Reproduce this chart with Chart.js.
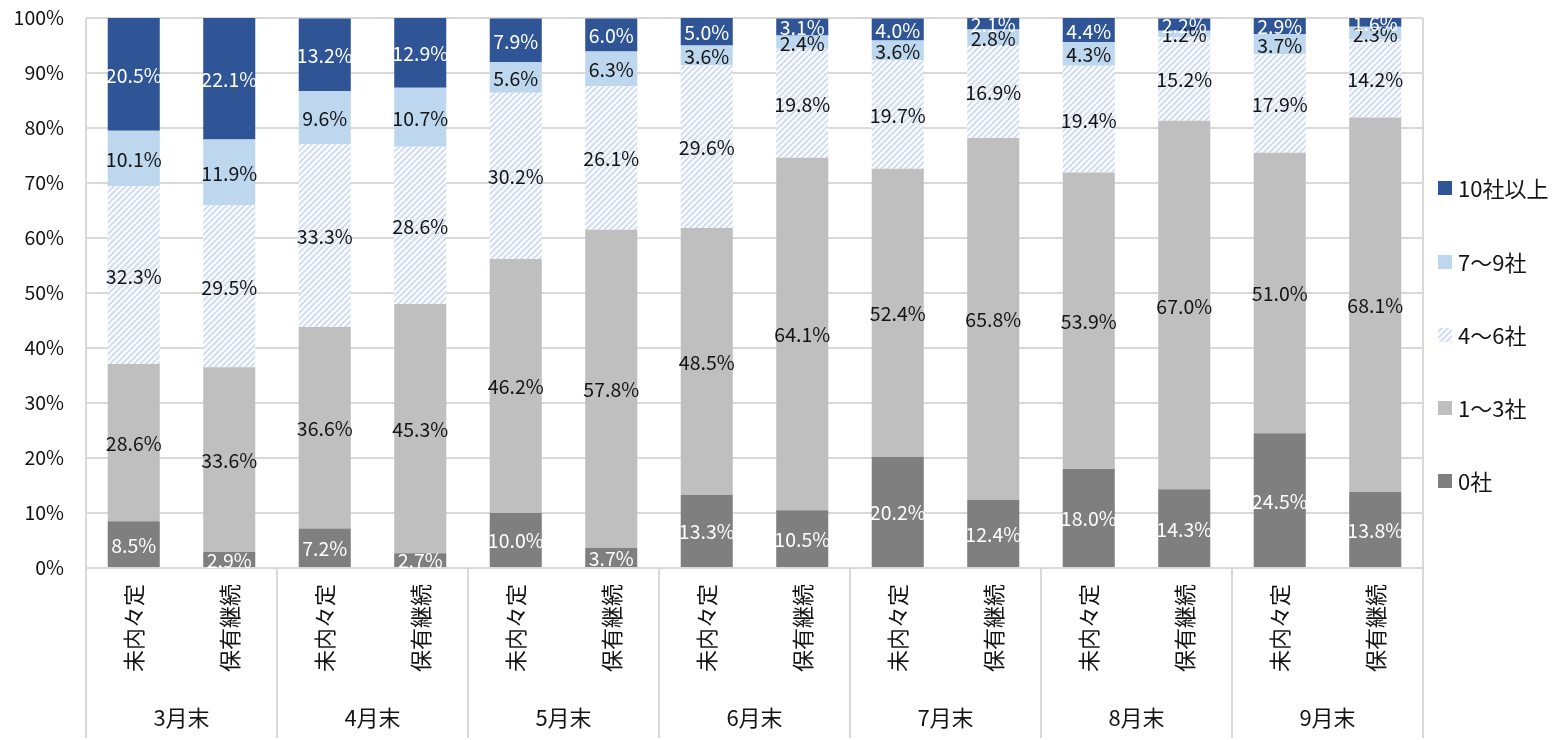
<!DOCTYPE html>
<html><head><meta charset="utf-8">
<script src="https://cdn.jsdelivr.net/npm/chart.js@4/dist/chart.umd.min.js"></script>
<style>html,body{margin:0;padding:0;background:#fff}#wrap{width:1567px;height:740px}</style>
</head><body><div id="wrap"><canvas id="c" width="1567" height="740"></canvas></div>
<script>
// ---- data ----
const groups = ['3月末','4月末','5月末','6月末','7月末','8月末','9月末'];
const subLabels = ['未内々定','保有継続'];
const seriesNames = ['0社','1〜3社','4〜6社','7〜9社','10社以上'];
const s0 = [8.5,2.9,7.2,2.7,10.0,3.7,13.3,10.5,20.2,12.4,18.0,14.3,24.5,13.8];
const s1 = [28.6,33.6,36.6,45.3,46.2,57.8,48.5,64.1,52.4,65.8,53.9,67.0,51.0,68.1];
const s2 = [32.3,29.5,33.3,28.6,30.2,26.1,29.6,19.8,19.7,16.9,19.4,15.2,17.9,14.2];
const s3 = [10.1,11.9,9.6,10.7,5.6,6.3,3.6,2.4,3.6,2.8,4.3,1.2,3.7,2.3];
const s4 = [20.5,22.1,13.2,12.9,7.9,6.0,5.0,3.1,4.0,2.1,4.4,2.2,2.9,1.6];
const yTickValues = [0,10,20,30,40,50,60,70,80,90,100];

// ---- styles ----
const FONT = "'Noto Sans CJK JP', 'Noto Sans', sans-serif";
Chart.defaults.font.family = FONT;
const GRID = '#D9D9D9';
const TXT = '#141414';

function hatch(){
  const c = document.createElement('canvas');
  c.width = 6; c.height = 6;
  const g = c.getContext('2d');
  g.fillStyle = '#ffffff'; g.fillRect(0,0,6,6);
  g.strokeStyle = '#D2DEF3'; g.lineWidth = 2.2;
  g.beginPath();
  g.moveTo(-1,7); g.lineTo(7,-1);
  g.moveTo(-4,4); g.lineTo(4,-4);
  g.moveTo(2,10); g.lineTo(10,2);
  g.stroke();
  return g.createPattern(c,'repeat');
}
const hatchPat = hatch();
const colors = ['#7F7F7F','#BFBFBF',hatchPat,'#BDD7EE','#2F5597'];
const labelColors = ['#ffffff',TXT,TXT,TXT,'#ffffff'];
const seriesData = [s0,s1,s2,s3,s4];

const categories = [];
groups.forEach(()=>subLabels.forEach(s=>categories.push(s)));

const overlay = {
  id:'overlay',
  afterDatasetsDraw(chart){
    const ctx = chart.ctx, ca = chart.chartArea;
    ctx.save();
    ctx.beginPath(); ctx.rect(ca.left, ca.top, ca.right-ca.left, ca.bottom-ca.top); ctx.clip();
    ctx.font = '19.5px ' + FONT; ctx.textAlign = 'center'; ctx.textBaseline = 'middle';
    chart.data.datasets.forEach((ds,i)=>{
      const meta = chart.getDatasetMeta(i);
      meta.data.forEach((bar,j)=>{
        const v = ds.data[j];
        ctx.fillStyle = labelColors[i];
        ctx.fillText(v.toFixed(1)+'%', bar.x, (bar.y+bar.base)/2 + 1);
      });
    });
    ctx.restore();
  },
  afterDraw(chart){
    const ctx = chart.ctx, ca = chart.chartArea;
    const xs = chart.scales.x;
    const step = (ca.right - ca.left) / groups.length;
    ctx.save();
    ctx.strokeStyle = GRID; ctx.lineWidth = 2;
    for(let k=0;k<=groups.length;k++){
      const x = Math.round(ca.left + k*step);
      ctx.beginPath();
      ctx.moveTo(x, (k===0||k===groups.length) ? ca.top : ca.bottom);
      ctx.lineTo(x, 738);
      ctx.stroke();
    }
    ctx.fillStyle = TXT; ctx.font = '22px ' + FONT;
    ctx.textAlign = 'center'; ctx.textBaseline = 'middle';
    groups.forEach((g,k)=>{
      const x = (xs.getPixelForValue(2*k) + xs.getPixelForValue(2*k+1))/2;
      ctx.fillText(g, x, 718);
    });
    // legend
    const ly = [188,262,335,408,481];
    ctx.textAlign = 'left';
    for(let i=4;i>=0;i--){
      const y = ly[4-i];
      ctx.fillStyle = colors[i];
      ctx.fillRect(1438, y-7, 14, 14);
      ctx.fillStyle = TXT;
      ctx.fillText(seriesNames[i], 1458, y+1);
    }
    ctx.restore();
  }
};

new Chart(document.getElementById('c'), {
  type:'bar',
  data:{
    labels: categories,
    datasets: seriesData.map((d,i)=>({
      label: seriesNames[i], data: d, backgroundColor: colors[i],
      borderWidth: 0, categoryPercentage: 1, barPercentage: 0.545
    }))
  },
  options:{
    responsive:false, animation:false, devicePixelRatio:1,
    layout:{padding:{left:0,right:144,top:18,bottom:0}},
    plugins:{legend:{display:false}, tooltip:{enabled:false}},
    scales:{
      x:{
        stacked:true,
        grid:{display:false, drawTicks:false},
        border:{display:true, color:GRID, width:2},
        ticks:{autoSkip:false, minRotation:90, maxRotation:90, padding:16, color:TXT, font:{size:22}},
        afterFit(s){ s.height = 172; s.paddingLeft = 0; s.paddingRight = 0; }
      },
      y:{
        stacked:true, min:0, max:100,
        afterBuildTicks(s){ s.ticks = yTickValues.map(v=>({value:v})); },
        grid:{color:GRID, lineWidth:2, drawTicks:false},
        border:{display:false},
        ticks:{padding:22, color:TXT, font:{size:19.5}, callback:v=>v+'%'},
        afterFit(s){ s.width = 86; s.paddingTop = 0; s.paddingBottom = 0; }
      }
    }
  },
  plugins:[overlay]
});
</script></body></html>
